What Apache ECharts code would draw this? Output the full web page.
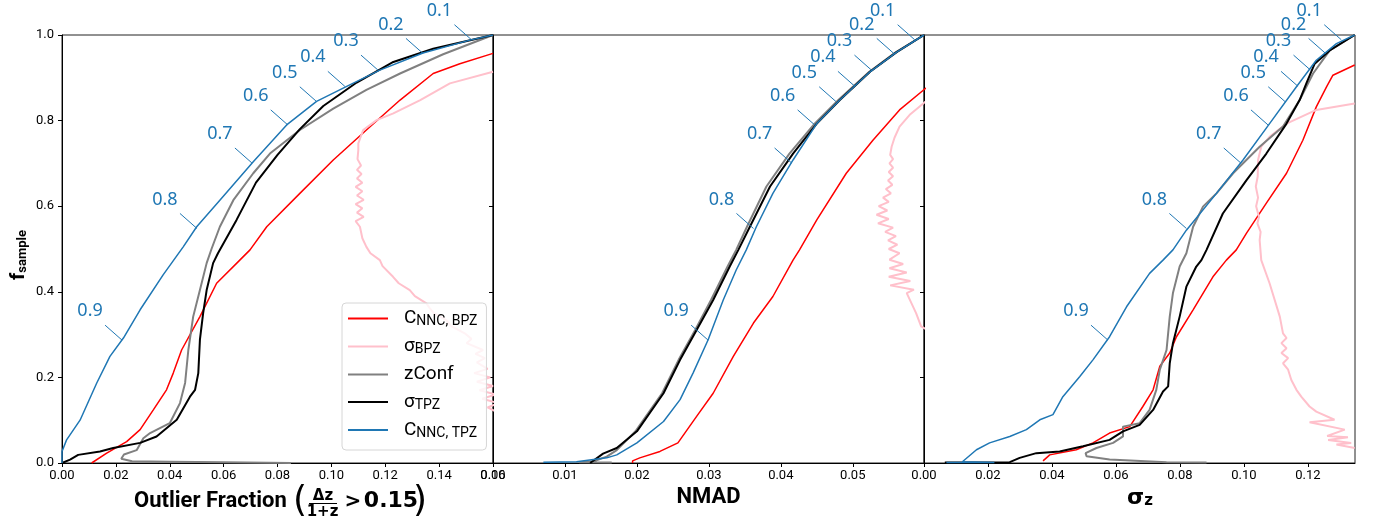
<!DOCTYPE html>
<html><head><meta charset="utf-8">
<script src="https://cdn.jsdelivr.net/npm/echarts@6/dist/echarts.min.js"></script>
<style>html,body{margin:0;padding:0;background:#fff}#c{width:1374px;height:522px}</style>
</head><body><div id="c"></div>
<script>
// ---------------- DATA ----------------
const seriesNames = ['C_NNC_BPZ', 'sigma_BPZ', 'zConf', 'sigma_TPZ', 'C_NNC_TPZ'];
const legendLabels = {
  C_NNC_BPZ: '{m|C}{s|NNC, BPZ}',
  sigma_BPZ: '{m|σ}{s|BPZ}',
  zConf: '{m|zConf}',
  sigma_TPZ: '{m|σ}{s|TPZ}',
  C_NNC_TPZ: '{m|C}{s|NNC, TPZ}'
};
const yTickValues = [0, 0.2, 0.4, 0.6, 0.8, 1.0];
const panelXMax = [0.16, 0.0599, 0.1347];
const panelXStep = [0.02, 0.01, 0.02];

// Panel 1: Outlier fraction  [x, f_sample]
const red1 = [[0.011,0.0],[0.011,0.004],[0.0166,0.023],[0.024,0.05],[0.029,0.078],[0.0339,0.124],[0.0388,0.171],[0.0413,0.21],[0.0444,0.264],[0.0512,0.342],[0.0574,0.42],[0.066,0.474],[0.0698,0.498],[0.076,0.552],[0.0883,0.63],[0.1007,0.708],[0.113,0.778],[0.1255,0.848],[0.1378,0.91],[0.1477,0.933],[0.16,0.957]];
const pink1 = [[0.161,0.12],[0.158,0.13],[0.162,0.14],[0.156,0.15],[0.161,0.16],[0.155,0.17],[0.16,0.18],[0.154,0.19],[0.159,0.2],[0.153,0.21],[0.158,0.22],[0.154,0.235],[0.157,0.245],[0.1535,0.255],[0.1563,0.264],[0.1502,0.28],[0.152,0.29],[0.1495,0.303],[0.1445,0.32],[0.1427,0.334],[0.138,0.35],[0.1365,0.362],[0.1353,0.373],[0.131,0.39],[0.1291,0.404],[0.125,0.42],[0.1229,0.435],[0.119,0.46],[0.118,0.474],[0.1145,0.49],[0.113,0.505],[0.1115,0.525],[0.1106,0.552],[0.109,0.565],[0.112,0.575],[0.1095,0.585],[0.1115,0.595],[0.109,0.605],[0.112,0.615],[0.1095,0.625],[0.1115,0.635],[0.109,0.645],[0.1115,0.655],[0.1095,0.665],[0.1112,0.675],[0.1095,0.685],[0.111,0.695],[0.1097,0.71],[0.11,0.731],[0.11,0.747],[0.1118,0.778],[0.1168,0.801],[0.123,0.817],[0.133,0.848],[0.144,0.887],[0.16,0.914]];
const gray1 = [[0.085,0.0],[0.06,0.002],[0.04,0.003],[0.026,0.004],[0.022,0.01],[0.023,0.02],[0.0277,0.03],[0.0302,0.058],[0.0327,0.07],[0.04,0.093],[0.0438,0.14],[0.0457,0.187],[0.0469,0.264],[0.0487,0.342],[0.0512,0.404],[0.0537,0.467],[0.0555,0.5],[0.0586,0.552],[0.0636,0.614],[0.071,0.677],[0.0772,0.723],[0.0883,0.778],[0.1007,0.828],[0.113,0.872],[0.1255,0.91],[0.1415,0.955],[0.16,1.0]];
const black1 = [[0,0],[0.003,0.008],[0.006,0.019],[0.0141,0.027],[0.019,0.035],[0.029,0.047],[0.0351,0.062],[0.0426,0.101],[0.0475,0.155],[0.0494,0.171],[0.0506,0.21],[0.0512,0.288],[0.0524,0.35],[0.0537,0.404],[0.0561,0.467],[0.0579,0.49],[0.0648,0.568],[0.072,0.655],[0.08,0.72],[0.0883,0.78],[0.097,0.834],[0.1094,0.889],[0.123,0.937],[0.1378,0.968],[0.16,1.0]];
const blue1 = [[0,0],[0,0.027],[0.0017,0.054],[0.0067,0.1],[0.0129,0.187],[0.0178,0.249],[0.0228,0.292],[0.029,0.358],[0.0376,0.44],[0.045,0.505],[0.05,0.552],[0.0586,0.614],[0.071,0.704],[0.0834,0.79],[0.0945,0.845],[0.1057,0.88],[0.118,0.918],[0.134,0.958],[0.1514,0.988],[0.16,1.0]];

// Panel 2: NMAD
const red2 = [[0.0194,0.0],[0.0194,0.005],[0.0204,0.012],[0.0232,0.027],[0.0257,0.047],[0.0283,0.109],[0.0306,0.163],[0.0334,0.249],[0.0362,0.327],[0.0389,0.389],[0.0417,0.474],[0.0426,0.498],[0.045,0.568],[0.0491,0.677],[0.0528,0.754],[0.0565,0.825],[0.0598,0.871],[0.0605,0.88]];
const pink2 = [[0.0605,0.31],[0.0595,0.319],[0.0588,0.35],[0.0575,0.397],[0.0585,0.405],[0.0552,0.415],[0.058,0.425],[0.055,0.435],[0.0575,0.445],[0.0551,0.455],[0.057,0.465],[0.0551,0.475],[0.0565,0.49],[0.055,0.5],[0.0562,0.51],[0.0549,0.52],[0.056,0.53],[0.0545,0.54],[0.0556,0.55],[0.0535,0.56],[0.055,0.57],[0.0533,0.58],[0.0548,0.59],[0.0536,0.6],[0.055,0.61],[0.0542,0.62],[0.0553,0.63],[0.0546,0.64],[0.0555,0.65],[0.0549,0.66],[0.0556,0.67],[0.055,0.68],[0.0556,0.69],[0.0551,0.7],[0.0556,0.71],[0.0552,0.72],[0.0554,0.739],[0.0558,0.76],[0.0565,0.786],[0.058,0.815],[0.0598,0.84],[0.0605,0.85]];
const gray2 = [[0.0165,0.001],[0.012,0.002],[0.014,0.004],[0.0158,0.015],[0.0172,0.03],[0.0198,0.074],[0.0235,0.163],[0.0258,0.241],[0.0281,0.311],[0.0303,0.381],[0.0326,0.459],[0.0338,0.498],[0.0353,0.552],[0.038,0.646],[0.0412,0.723],[0.0447,0.793],[0.048,0.848],[0.0523,0.914],[0.056,0.96],[0.0599,1.0]];
const black2 = [[0.0135,0.0],[0.0135,0.003],[0.0153,0.022],[0.0172,0.035],[0.02,0.074],[0.0237,0.163],[0.026,0.241],[0.0283,0.311],[0.0306,0.381],[0.0329,0.459],[0.0341,0.498],[0.0357,0.552],[0.0385,0.646],[0.0417,0.723],[0.045,0.793],[0.0482,0.848],[0.0524,0.914],[0.0561,0.96],[0.0599,1.0]];
const blue2 = [[0.007,0.002],[0.0116,0.003],[0.0158,0.012],[0.0172,0.019],[0.02,0.047],[0.0237,0.097],[0.026,0.148],[0.0278,0.21],[0.0299,0.288],[0.032,0.381],[0.0338,0.451],[0.0352,0.498],[0.0366,0.552],[0.0389,0.63],[0.0417,0.708],[0.045,0.793],[0.0482,0.848],[0.0524,0.914],[0.0561,0.96],[0.0599,1.0]];

// Panel 3: sigma_z
const red3 = [[0.0372,0.005],[0.0393,0.019],[0.0476,0.031],[0.0528,0.047],[0.058,0.07],[0.0643,0.085],[0.0684,0.132],[0.0716,0.171],[0.0737,0.226],[0.0768,0.257],[0.0789,0.295],[0.0841,0.358],[0.0903,0.435],[0.0945,0.474],[0.0976,0.498],[0.1008,0.537],[0.107,0.607],[0.1133,0.677],[0.1184,0.754],[0.1226,0.832],[0.1258,0.879],[0.1278,0.906],[0.1346,0.93]];
const pink3 = [[0.1346,0.035],[0.1289,0.043],[0.1335,0.047],[0.1263,0.054],[0.1325,0.06],[0.126,0.063],[0.1315,0.078],[0.1205,0.095],[0.1283,0.101],[0.1226,0.12],[0.1205,0.132],[0.1179,0.155],[0.1164,0.171],[0.1148,0.194],[0.1138,0.218],[0.1122,0.233],[0.1138,0.245],[0.1117,0.257],[0.1133,0.268],[0.1117,0.28],[0.1133,0.292],[0.1122,0.303],[0.1112,0.342],[0.108,0.42],[0.1054,0.474],[0.1049,0.521],[0.1052,0.54],[0.1042,0.56],[0.1047,0.575],[0.1038,0.6],[0.1044,0.62],[0.1037,0.646],[0.1043,0.67],[0.1044,0.708],[0.1054,0.739],[0.108,0.762],[0.1133,0.793],[0.1226,0.825],[0.1346,0.84]];
const gray3 = [[0.0883,0.001],[0.0758,0.002],[0.058,0.008],[0.0508,0.016],[0.0505,0.023],[0.0539,0.035],[0.0591,0.047],[0.0622,0.062],[0.0622,0.085],[0.0674,0.093],[0.0705,0.124],[0.0726,0.171],[0.0737,0.218],[0.0758,0.264],[0.0768,0.342],[0.0778,0.397],[0.0799,0.459],[0.082,0.49],[0.0841,0.552],[0.0872,0.599],[0.0914,0.63],[0.0966,0.677],[0.1049,0.739],[0.1122,0.786],[0.1174,0.848],[0.1216,0.91],[0.1268,0.964],[0.1346,1.0]];
const black3 = [[0.0065,0.001],[0.0268,0.002],[0.0299,0.012],[0.0351,0.023],[0.0424,0.027],[0.0497,0.039],[0.058,0.054],[0.0622,0.074],[0.0674,0.089],[0.0716,0.124],[0.0747,0.167],[0.0763,0.179],[0.0768,0.233],[0.0778,0.28],[0.0799,0.342],[0.082,0.412],[0.0851,0.459],[0.0867,0.474],[0.0883,0.498],[0.0934,0.583],[0.1008,0.661],[0.107,0.723],[0.1133,0.793],[0.1174,0.848],[0.1195,0.887],[0.1221,0.933],[0.1268,0.964],[0.1346,1.0]];
const blue3 = [[0.007,0.001],[0.022,0.001],[0.012,0.003],[0.0122,0.005],[0.0164,0.031],[0.0205,0.047],[0.0268,0.062],[0.032,0.078],[0.0362,0.101],[0.0403,0.113],[0.0434,0.155],[0.0487,0.202],[0.0528,0.241],[0.058,0.295],[0.0633,0.365],[0.0705,0.443],[0.0747,0.474],[0.0778,0.498],[0.082,0.544],[0.0914,0.63],[0.0997,0.708],[0.108,0.793],[0.1164,0.879],[0.1226,0.941],[0.1289,0.98],[0.1346,1.0]];

// Threshold annotations on the C_NNC,TPZ curve
const annoLabels = ['0.1','0.2','0.3','0.4','0.5','0.6','0.7','0.8','0.9'];
const annoF  = [0.989,0.957,0.918,0.880,0.844,0.790,0.701,0.548,0.287];
const annoX1 = [0.152,0.134,0.1173,0.105,0.0946,0.0838,0.0705,0.0501,0.0223];
const annoX2 = [0.0586,0.0557,0.0526,0.0503,0.0477,0.0447,0.0415,0.0362,0.0299];
const annoX3 = [0.1304,0.1255,0.1208,0.1169,0.1129,0.1075,0.099,0.082,0.0575];

// ---------------- CHART ----------------
const COLORS = {C_NNC_BPZ:'#ff0000', sigma_BPZ:'#ffc0cb', zConf:'#808080', sigma_TPZ:'#000000', C_NNC_TPZ:'#1f77b4'};
const WIDTHS = {C_NNC_BPZ:1.5, sigma_BPZ:2, zConf:2, sigma_TPZ:2, C_NNC_TPZ:1.5};
const BLUE = '#1f77b4';
const panelData = [
  {C_NNC_BPZ:red1, sigma_BPZ:pink1, zConf:gray1, sigma_TPZ:black1, C_NNC_TPZ:blue1},
  {C_NNC_BPZ:red2, sigma_BPZ:pink2, zConf:gray2, sigma_TPZ:black2, C_NNC_TPZ:blue2},
  {C_NNC_BPZ:red3, sigma_BPZ:pink3, zConf:gray3, sigma_TPZ:black3, C_NNC_TPZ:blue3}
];
const annoX = [annoX1, annoX2, annoX3];

const GL = 62, GW = 431, GT = 35, GH = 428;
const grids = [0,1,2].map(i => ({left: GL + GW*i, top: GT, width: GW, height: GH, show: true, borderColor: '#222', borderWidth: 1, backgroundColor: 'transparent'}));
const xAxes = [0,1,2].map(i => ({
  gridIndex: i, type: 'value', min: 0, max: panelXMax[i], interval: panelXStep[i],
  splitLine: {show: false},
  axisLine: {show: true, lineStyle: {color: '#000', width: 1}},
  axisTick: {show: true, length: 4, lineStyle: {color: '#000'}},
  axisLabel: {color: '#000', fontFamily: 'Roboto', fontSize: 13, margin: 6, showMaxLabel: i === 0,
    formatter: v => v.toFixed(2)}
}));
const yAxes = [0,1,2].map(i => ({
  gridIndex: i, type: 'value', min: yTickValues[0], max: yTickValues[yTickValues.length-1], interval: 0.2,
  splitLine: {show: false},
  axisLine: {show: true, lineStyle: {color: '#000', width: 1}},
  axisTick: {show: true, length: 4, lineStyle: {color: '#000'}},
  axisLabel: {show: i === 0, color: '#000', fontFamily: 'Roboto', fontSize: 13, margin: 8,
    formatter: v => v.toFixed(1)}
}));

const series = [];
panelData.forEach((pd, gi) => {
  seriesNames.forEach(n => {
    series.push({
      name: n, type: 'line', xAxisIndex: gi, yAxisIndex: gi, data: pd[n],
      showSymbol: false, symbol: 'none', clip: true, animation: false, silent: true,
      lineStyle: {color: COLORS[n], width: WIDTHS[n]}, itemStyle: {color: COLORS[n]}
    });
  });
  series.push({
    type: 'custom', xAxisIndex: gi, yAxisIndex: gi, z: 10, silent: true, clip: false, animation: false,
    data: annoX[gi].map((x, k) => [x, annoF[k], k]),
    renderItem: (params, api) => {
      const p = api.coord([api.value(0), api.value(1)]);
      const k = api.value(2);
      return {type: 'group', children: [
        {type: 'line', shape: {x1: p[0], y1: p[1], x2: p[0]-17, y2: p[1]-15}, style: {stroke: BLUE, lineWidth: 1}},
        {type: 'text', x: p[0]-32, y: p[1]-29, style: {text: annoLabels[k], fill: BLUE, font: '18px "Noto Sans"', align: 'center', verticalAlign: 'middle'}}
      ]};
    }
  });
});

const chart = echarts.init(document.getElementById('c'), null, {renderer: 'canvas'});
chart.setOption({
  animation: false,
  backgroundColor: '#fff',
  grid: grids, xAxis: xAxes, yAxis: yAxes, series: series,
  legend: {
    data: seriesNames, orient: 'vertical', left: 342, top: 303,
    itemWidth: 40, itemHeight: 2, icon: 'rect', itemGap: 8.5,
    padding: [6, 9, 10, 6], backgroundColor: 'rgba(255,255,255,0.8)', borderColor: '#d6d6d6', borderWidth: 1, borderRadius: 4,
    selectedMode: false,
    formatter: n => '{sp| }' + legendLabels[n],
    textStyle: {fontFamily: 'Roboto', color: '#000', rich: {
      sp: {width: 11, fontSize: 10, lineHeight: 20},
      m: {fontFamily: 'Roboto', fontSize: 19, lineHeight: 20, color: '#000'},
      s: {fontFamily: 'Roboto', fontSize: 14, lineHeight: 13, verticalAlign: 'bottom', color: '#000'}
    }}
  },
  graphic: [
    {type: 'text', x: 134, y: 501, style: {text: 'Outlier Fraction', font: 'bold 22px Roboto', fill: '#000', verticalAlign: 'middle'}},
    {type: 'text', x: 300, y: 502, style: {text: '(', font: '36px "DejaVu Sans"', fill: '#000', align: 'center', verticalAlign: 'middle'}},
    {type: 'text', x: 323, y: 496, style: {text: 'Δz', font: 'bold 15px "DejaVu Sans"', fill: '#000', align: 'center', verticalAlign: 'middle'}},
    {type: 'line', shape: {x1: 309, y1: 503.5, x2: 337, y2: 503.5}, style: {stroke: '#000', lineWidth: 1}},
    {type: 'text', x: 322.5, y: 512, style: {text: '1+z', font: 'bold 15px "DejaVu Sans"', fill: '#000', align: 'center', verticalAlign: 'middle'}},
    {type: 'text', x: 353, y: 502, style: {text: '>', font: 'bold 20px "DejaVu Sans"', fill: '#000', align: 'center', verticalAlign: 'middle'}},
    {type: 'text', x: 391, y: 501, style: {text: '0.15', font: 'bold 22px "DejaVu Sans"', fill: '#000', align: 'center', verticalAlign: 'middle'}},
    {type: 'text', x: 420, y: 502, style: {text: ')', font: '36px "DejaVu Sans"', fill: '#000', align: 'center', verticalAlign: 'middle'}},
    {type: 'text', x: 708.5, y: 497, style: {text: 'NMAD', font: 'bold 22px Roboto', fill: '#000', align: 'center', verticalAlign: 'middle'}},
    {type: 'text', x: 1140, y: 498, style: {text: '{m|σ}{s|z}', align: 'center', verticalAlign: 'middle',
      rich: {m: {font: 'bold 22px "DejaVu Sans"', fill: '#000', lineHeight: 22}, s: {font: 'bold 15px "DejaVu Sans"', fill: '#000', lineHeight: 14, verticalAlign: 'bottom'}}}},
    {type: 'text', x: 19, y: 255, rotation: Math.PI/2, style: {text: '{m|f}{s|sample}', align: 'center', verticalAlign: 'middle',
      rich: {m: {font: 'bold 20px Roboto', fill: '#000', lineHeight: 20}, s: {font: 'bold 13px Roboto', fill: '#000', lineHeight: 12, verticalAlign: 'bottom'}}}}
  ]
});
</script></body></html>
